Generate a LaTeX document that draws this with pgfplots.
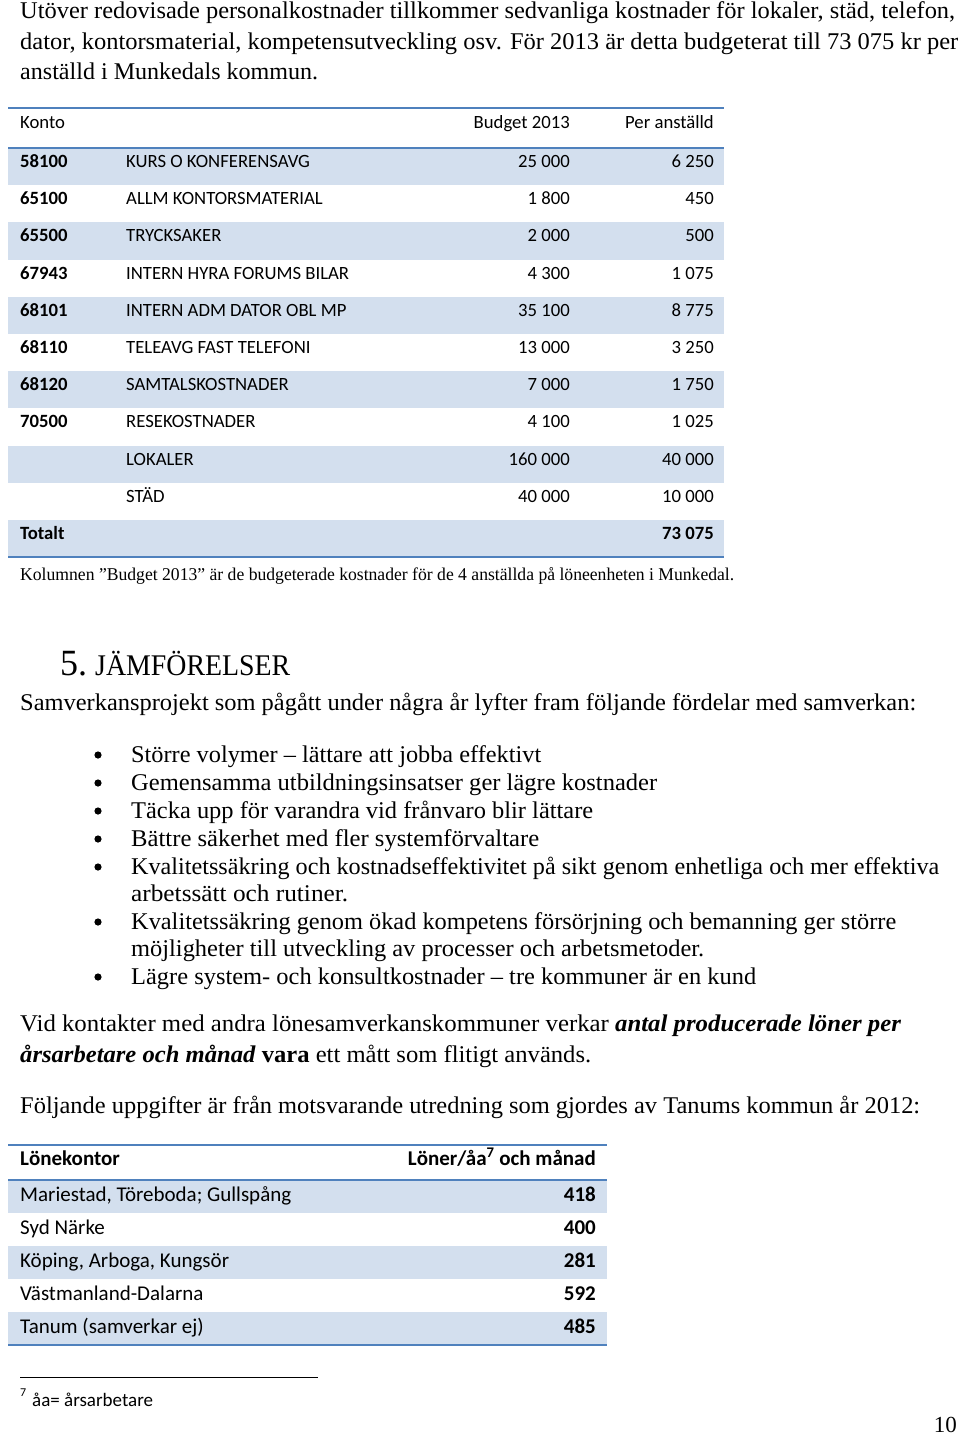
\documentclass[border=0pt]{standalone}
\usepackage{pgfplots}
\pgfplotsset{compat=1.18}
\usepackage{fontspec}
\usepackage{graphicx}
\setmainfont{Liberation Serif}
\newfontfamily\calf{Carlito}
\definecolor{ruleblue}{HTML}{4F81BD}
\definecolor{bandblue}{HTML}{D3DFEE}
\newcommand\fsz[1]{\fontsize{#1pt}{#1pt}\selectfont}
\newcommand\RW[2]{\resizebox{#1pt}{\height}{#2}}
\newcommand\TL[3]{\node[anchor=base west,inner sep=0pt] at (axis cs:#1,#2) {#3};}
\newcommand\TR[3]{\node[anchor=base east,inner sep=0pt] at (axis cs:#1,#2) {#3};}
\newcommand\BAND[4]{\fill[fill=bandblue] (axis cs:#1,#2) rectangle (axis cs:#3,#4);}
\newcommand\BUL[1]{\fill (axis cs:98,#1) circle[radius=3.6pt];}
\newcommand\ta{\calf\fsz{18.7}}
\newcommand\tb{\calf\fsz{21}}
\begin{document}
\begin{tikzpicture}
\begin{axis}[scale only axis, width=960pt, height=1437pt,
  xmin=0, xmax=960, ymin=0, ymax=1437, y dir=reverse,
  hide axis, clip=false]
\path (axis cs:0,0) rectangle (axis cs:960,1437);
% ---------- intro text
\TL{20}{19}{\fsz{24}\RW{935}{Utöver redovisade personalkostnader tillkommer sedvanliga kostnader för lokaler, städ, telefon,}}
\TL{20}{50}{\fsz{24}\RW{938}{dator, kontorsmaterial, kompetensutveckling osv. För 2013 är detta budgeterat till 73 075 kr per}}
\TL{20}{80}{\fsz{24}\RW{298}{anställd i Munkedals kommun.}}
% ---------- table 1 bands
\BAND{8}{148}{724}{185.2}
\BAND{8}{222.4}{724}{259.6}
\BAND{8}{296.8}{724}{334}
\BAND{8}{371.2}{724}{408.4}
\BAND{8}{445.6}{724}{482.8}
\BAND{8}{520}{724}{557.2}
\draw[ruleblue, line width=1.5pt] (axis cs:8,108) -- (axis cs:724,108);
\draw[ruleblue, line width=2.5pt] (axis cs:8,148) -- (axis cs:724,148);
\draw[ruleblue, line width=2.5pt] (axis cs:8,557) -- (axis cs:724,557);
% header
\TL{20}{128}{\ta Konto}
\TR{570}{128}{\ta Budget 2013}
\TR{714}{128}{\ta Per anställd}
% rows
\TL{20}{167.5}{\ta\bfseries 58100}\TL{126}{167.5}{\ta KURS O KONFERENSAVG}\TR{570}{167.5}{\ta 25 000}\TR{714}{167.5}{\ta 6 250}
\TL{20}{204.7}{\ta\bfseries 65100}\TL{126}{204.7}{\ta ALLM KONTORSMATERIAL}\TR{570}{204.7}{\ta 1 800}\TR{714}{204.7}{\ta 450}
\TL{20}{241.9}{\ta\bfseries 65500}\TL{126}{241.9}{\ta TRYCKSAKER}\TR{570}{241.9}{\ta 2 000}\TR{714}{241.9}{\ta 500}
\TL{20}{279.1}{\ta\bfseries 67943}\TL{126}{279.1}{\ta INTERN HYRA FORUMS BILAR}\TR{570}{279.1}{\ta 4 300}\TR{714}{279.1}{\ta 1 075}
\TL{20}{316.3}{\ta\bfseries 68101}\TL{126}{316.3}{\ta INTERN ADM DATOR OBL MP}\TR{570}{316.3}{\ta 35 100}\TR{714}{316.3}{\ta 8 775}
\TL{20}{353.5}{\ta\bfseries 68110}\TL{126}{353.5}{\ta TELEAVG FAST TELEFONI}\TR{570}{353.5}{\ta 13 000}\TR{714}{353.5}{\ta 3 250}
\TL{20}{390.7}{\ta\bfseries 68120}\TL{126}{390.7}{\ta SAMTALSKOSTNADER}\TR{570}{390.7}{\ta 7 000}\TR{714}{390.7}{\ta 1 750}
\TL{20}{427.9}{\ta\bfseries 70500}\TL{126}{427.9}{\ta RESEKOSTNADER}\TR{570}{427.9}{\ta 4 100}\TR{714}{427.9}{\ta 1 025}
\TL{126}{465.1}{\ta LOKALER}\TR{570}{465.1}{\ta 160 000}\TR{714}{465.1}{\ta 40 000}
\TL{126}{502.3}{\ta STÄD}\TR{570}{502.3}{\ta 40 000}\TR{714}{502.3}{\ta 10 000}
\TL{20}{539.5}{\ta\bfseries Totalt}\TR{714}{539.5}{\ta\bfseries 73 075}
% caption
\TL{20}{580}{\fsz{18}\RW{714}{Kolumnen ”Budget 2013” är de budgeterade kostnader för de 4 anställda på löneenheten i Munkedal.}}
% ---------- heading
\TL{60}{675}{\fsz{37}\RW{27}{5.}}
\TL{95}{675}{\fsz{30}\RW{195}{JÄMFÖRELSER}}
\TL{20}{710}{\fsz{24}\RW{896}{Samverkansprojekt som pågått under några år lyfter fram följande fördelar med samverkan:}}
% bullets
\BUL{755}\BUL{783}\BUL{811}\BUL{839}\BUL{867}\BUL{922}\BUL{977}
\TL{131}{762}{\fsz{24}\RW{410}{Större volymer – lättare att jobba effektivt}}
\TL{131}{790}{\fsz{24}\RW{526}{Gemensamma utbildningsinsatser ger lägre kostnader}}
\TL{131}{818}{\fsz{24}\RW{462}{Täcka upp för varandra vid frånvaro blir lättare}}
\TL{131}{846}{\fsz{24}\RW{408}{Bättre säkerhet med fler systemförvaltare}}
\TL{131}{874}{\fsz{24}\RW{808}{Kvalitetssäkring och kostnadseffektivitet på sikt genom enhetliga och mer effektiva}}
\TL{131}{901}{\fsz{24}\RW{217}{arbetssätt och rutiner.}}
\TL{131}{929}{\fsz{24}\RW{765}{Kvalitetssäkring genom ökad kompetens försörjning och bemanning ger större}}
\TL{131}{956}{\fsz{24}\RW{573}{möjligheter till utveckling av processer och arbetsmetoder.}}
\TL{131}{984}{\fsz{24}\RW{625}{Lägre system- och konsultkostnader – tre kommuner är en kund}}
% paragraph
\TL{20}{1031}{\fsz{24}\RW{881}{Vid kontakter med andra lönesamverkanskommuner verkar \textbf{\textit{antal producerade löner per}}}}
\TL{20}{1062}{\fsz{24}\RW{571}{\textbf{\textit{årsarbetare och månad}} \textbf{vara} ett mått som flitigt används.}}
\TL{20}{1113}{\fsz{24}\RW{900}{Följande uppgifter är från motsvarande utredning som gjordes av Tanums kommun år 2012:}}
% ---------- table 2
\BAND{8}{1180}{607}{1213}
\BAND{8}{1246}{607}{1279}
\BAND{8}{1312}{607}{1345}
\draw[ruleblue, line width=1.5pt] (axis cs:8,1145) -- (axis cs:607,1145);
\draw[ruleblue, line width=2.5pt] (axis cs:8,1180) -- (axis cs:607,1180);
\draw[ruleblue, line width=2.5pt] (axis cs:8,1345) -- (axis cs:607,1345);
\TL{20}{1165}{\tb\bfseries Lönekontor}
\TR{596}{1165}{\tb\bfseries Löner/åa\textsuperscript{7} och månad}
\TL{20}{1201}{\tb Mariestad, Töreboda; Gullspång}\TR{596}{1201}{\tb\bfseries 418}
\TL{20}{1234}{\tb Syd Närke}\TR{596}{1234}{\tb\bfseries 400}
\TL{20}{1267}{\tb Köping, Arboga, Kungsör}\TR{596}{1267}{\tb\bfseries 281}
\TL{20}{1300}{\tb Västmanland-Dalarna}\TR{596}{1300}{\tb\bfseries 592}
\TL{20}{1333}{\tb Tanum (samverkar ej)}\TR{596}{1333}{\tb\bfseries 485}
% ---------- footnote
\draw[black, line width=1pt] (axis cs:20,1377) -- (axis cs:318,1377);
\TL{20}{1396}{\calf\fsz{12}7}
\TL{32}{1406}{\calf\fsz{19}åa= årsarbetare}
\TR{957}{1432}{\fsz{23}10}
\end{axis}
\end{tikzpicture}
\end{document}
